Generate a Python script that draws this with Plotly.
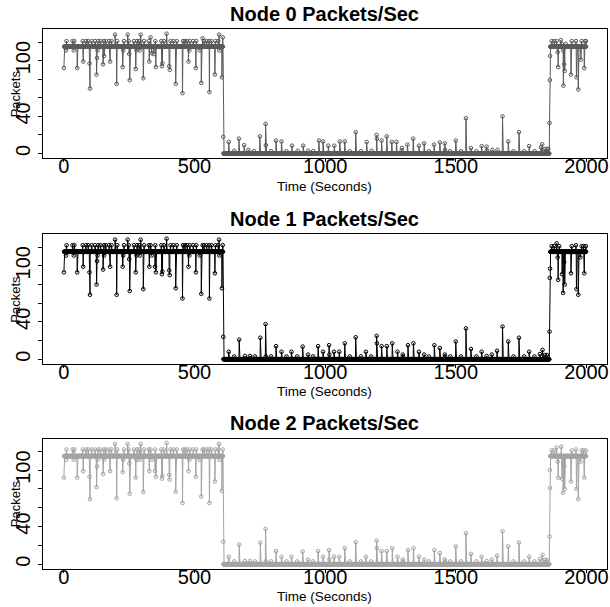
import plotly.graph_objects as go

# ---------------- data ----------------
# seconds sampled once per second; baseline levels per phase
SEG_START = [0, 611, 1862]
SEG_END = [610, 1861, 1999]
SEG_LEVEL = [115, 0, 115]

# Node 0 deviations from the baseline (time, packets)
n0_dev_t = [0, 8, 38, 51, 74, 98, 100, 125, 127, 129, 150, 154, 177, 202, 225, 227, 250, 252, 275, 278,
            290, 304, 327, 336, 344, 352, 375, 377, 403, 405, 428, 454, 477, 480, 505, 520, 526, 557, 578, 595, 605,
            10, 33, 40, 72, 84, 93, 106, 119, 131, 140, 153, 160, 173, 182, 196, 204, 230, 244, 248, 268,
            280, 288, 294, 307, 325, 332, 350, 373, 383, 393, 408, 419, 432, 456, 463, 472, 482, 495, 507,
            531, 536, 546, 556, 565, 580, 591, 594, 608,
            610, 631, 652, 670, 690, 706, 728, 750, 772, 773, 793, 812, 833, 852, 873, 895, 916, 935, 954,
            976, 992, 1012, 1035, 1056, 1075, 1094, 1117, 1137, 1159, 1178, 1197, 1198, 1216, 1236, 1255,
            1273, 1293, 1294, 1315, 1337, 1359, 1379, 1397, 1417, 1439, 1458, 1459, 1478, 1500, 1520, 1539,
            1558, 1579, 1599, 1618, 1619, 1640, 1660, 1679, 1701, 1721, 1742, 1762, 1781, 1802, 1826, 1831,
            1841, 1849, 1854, 1859, 1860, 1861,
            1867, 1877, 1886, 1902, 1906, 1921, 1944, 1960, 1982, 1995, 1998,
            1890, 1892, 1911, 1912, 1915, 1917, 1941, 1962, 1969, 1979, 1992]
n0_dev_v = [92, 111, 111, 92, 99, 97, 70, 85, 103, 111, 96, 105, 99, 75, 93, 111, 107, 79, 91, 111,
            111, 81, 99, 108, 107, 93, 94, 97, 94, 90, 75, 65, 99, 111, 92, 111, 76, 66, 85, 111, 82,
            121, 121, 121, 121, 121, 121, 121, 121, 121, 121, 121, 121, 121, 121, 128, 121, 121, 128, 121, 121,
            121, 121, 128, 121, 121, 125, 121, 121, 121, 129, 121, 121, 121, 121, 121, 121, 121, 121, 121,
            124, 121, 121, 121, 121, 121, 121, 128, 125,
            18, 12.5, 3, 16, 9, 4, 2.5, 18.5, 32, 9, 2.5, 14, 13, 2.5, 8.5, 3, 8.5, 3, 2.5,
            14, 13, 8.5, 8.5, 13, 13, 2.5, 23, 2.5, 12.5, 3, 20, 16, 14, 18.5, 12.5,
            12.5, 3, 6, 9.6, 16, 8.5, 11, 2.5, 9.6, 12, 11, 4, 2.5, 14, 2.5, 38,
            6, 2.5, 8, 7.5, 3.5, 4, 4, 40, 13, 2.5, 23, 2.5, 8, 2.5, 6.7, 10,
            5, 5, 5, 33, 79, 105,
            121, 121, 121, 122, 118, 118, 121, 121, 121, 121, 121,
            109, 93, 111, 73, 96, 89, 85, 82, 69, 101, 92]

# Node 1 deviations
n1_dev_t = [0, 8, 38, 51, 74, 98, 100, 125, 127, 129, 150, 154, 177, 202, 225, 227, 250, 252, 275, 278,
            290, 304, 327, 336, 349, 352, 375, 377, 403, 405, 428, 454, 477, 480, 505, 520, 526, 557, 578, 595, 605,
            10, 33, 40, 72, 84, 93, 106, 119, 131, 140, 153, 160, 173, 182, 196, 204, 230, 244, 248, 268,
            280, 288, 294, 307, 325, 332, 350, 373, 383, 393, 408, 419, 432, 456, 463, 472, 482, 495, 507,
            531, 536, 546, 556, 565, 580, 591, 594, 608,
            610, 631, 652, 671, 693, 712, 731, 752, 772, 773, 793, 812, 833, 852, 871, 893, 914, 935, 954,
            973, 992, 1015, 1016, 1034, 1054, 1075, 1094, 1117, 1137, 1156, 1176, 1197, 1198, 1216, 1236,
            1257, 1277, 1297, 1298, 1317, 1338, 1359, 1379, 1397, 1418, 1439, 1458, 1459, 1479, 1500, 1520,
            1539, 1558, 1579, 1599, 1618, 1638, 1658, 1679, 1701, 1721, 1742, 1762, 1781, 1801, 1822, 1832,
            1841, 1849, 1859, 1860, 1861,
            1867, 1877, 1886, 1896, 1944, 1960, 1982, 1989, 1998,
            1890, 1892, 1907, 1911, 1915, 1917, 1941, 1962, 1969, 1977, 1992]
n1_dev_v = [93, 111, 111, 93, 99, 93, 69, 80, 105, 111, 96, 111, 99, 69, 99, 111, 107, 73, 93, 111,
            111, 75, 99, 111, 99, 93, 91, 94, 95, 90, 76, 65, 99, 111, 93, 111, 70, 65, 92, 111, 76,
            122, 122, 122, 122, 122, 122, 122, 122, 122, 122, 122, 122, 122, 122, 128, 122, 122, 128, 122, 122,
            122, 122, 128, 122, 122, 122, 122, 122, 122, 129, 122, 122, 122, 122, 122, 122, 122, 122, 122,
            122, 122, 122, 122, 122, 122, 122, 128, 122,
            24, 8, 3, 21, 3.5, 3.5, 3, 23, 37.6, 3, 3, 14, 8, 3, 8, 3, 13.5, 5, 3,
            14, 8, 15, 5, 8, 8, 17, 3, 23.5, 3, 8, 3, 25, 17, 14, 14,
            17, 8, 5, 3, 15, 17, 8, 5, 3, 15, 12, 5, 3, 3, 19, 3,
            33, 11, 3, 8, 3.5, 5, 9, 35, 19, 3, 23, 3, 8, 3, 5.5, 10,
            4.5, 4.5, 29.5, 87, 97,
            121, 121, 124, 121, 121, 122, 121, 121, 121,
            109, 85, 91, 71, 104, 80, 92, 75, 69, 109, 92]

# Node 2 deviations
n2_dev_t = [0, 8, 38, 51, 74, 98, 100, 125, 127, 129, 150, 154, 177, 202, 225, 227, 250, 252, 275, 278,
            290, 304, 327, 336, 349, 352, 375, 377, 403, 405, 428, 454, 477, 480, 505, 520, 526, 557, 578, 595, 605,
            10, 33, 40, 72, 84, 93, 106, 119, 131, 140, 153, 160, 173, 182, 196, 204, 230, 244, 248, 268,
            280, 288, 294, 307, 325, 332, 350, 373, 383, 393, 408, 419, 432, 456, 463, 472, 482, 495, 507,
            531, 536, 546, 556, 565, 580, 591, 594, 608,
            610, 631, 652, 671, 693, 712, 731, 752, 772, 773, 793, 812, 833, 852, 871, 893, 914, 935, 954,
            973, 992, 1015, 1016, 1034, 1054, 1075, 1094, 1117, 1137, 1156, 1176, 1197, 1198, 1216, 1236,
            1257, 1277, 1297, 1298, 1317, 1338, 1359, 1379, 1397, 1418, 1439, 1458, 1459, 1479, 1500, 1520,
            1539, 1558, 1579, 1599, 1618, 1638, 1658, 1679, 1701, 1721, 1742, 1762, 1781, 1801, 1822, 1832,
            1841, 1849, 1859, 1860, 1861,
            1867, 1877, 1886, 1904, 1944, 1960, 1982, 1989, 1998,
            1890, 1892, 1907, 1911, 1915, 1917, 1941, 1962, 1969, 1977, 1992]
n2_dev_v = [92, 111, 111, 92, 99, 93, 69, 82, 104, 111, 96, 111, 99, 70, 98, 111, 107, 75, 92, 111,
            111, 77, 99, 111, 99, 93, 91, 94, 95, 90, 77, 65, 99, 111, 93, 111, 72, 65, 88, 111, 78,
            122, 122, 122, 122, 122, 122, 122, 122, 122, 122, 122, 122, 122, 122, 128, 122, 122, 128, 122, 122,
            122, 122, 128, 122, 122, 122, 122, 122, 122, 129, 122, 122, 122, 122, 122, 122, 122, 122, 122,
            122, 122, 122, 122, 122, 122, 122, 128, 122,
            24, 8, 3, 21, 3.5, 3.5, 3, 23, 37.6, 3, 3, 14, 8, 3, 8, 3, 13.5, 5, 3,
            14, 8, 15, 5, 8, 8, 17, 3, 23.5, 3, 8, 3, 25, 17, 14, 14,
            17, 8, 5, 3, 15, 17, 8, 5, 3, 15, 12, 5, 3, 3, 19, 3,
            33, 11, 3, 8, 3.5, 5, 9, 35, 19, 3, 23, 3, 8, 3, 5.5, 10,
            4.5, 4.5, 29.5, 100, 81,
            121, 121, 124, 125, 121, 122, 121, 121, 121,
            109, 92, 91, 76, 104, 80, 88, 80, 69, 109, 92]

NODE_NAMES = ["Node 0 Packets/Sec", "Node 1 Packets/Sec", "Node 2 Packets/Sec"]
X_TICKS = [0, 500, 1000, 1500, 2000]
Y_TICKS = [0, 20, 40, 60, 80, 100, 120]
Y_TICK_TEXT = ["0", "", "40", "", "", "100", ""]

# ---------------- build ----------------
def build_series(dev_t, dev_v):
    t_all, v_all = [], []
    for s, e, lvl in zip(SEG_START, SEG_END, SEG_LEVEL):
        for t in range(s, e + 1):
            t_all.append(t)
            v_all.append(lvl)
    dev = dict(zip(dev_t, dev_v))
    v_all = [dev.get(t, v) for t, v in zip(t_all, v_all)]
    return t_all, v_all

W, H = 610, 607
FONT = "Liberation Sans, Arial, Helvetica, sans-serif"
colors = ["#5a5a5a", "#000000", "#a3a3a3"]
box_top = [29.3, 234.3, 438.5]
box_bot = [158.3, 364.0, 569.0]
title_y = [13.7, 219.0, 423.0]
xlab_y = [186.7, 391.5, 596.0]
x_left, x_right = 43.0, 606.5

fig = go.Figure()
devs = [(n0_dev_t, n0_dev_v), (n1_dev_t, n1_dev_v), (n2_dev_t, n2_dev_v)]
annotations = []
for i, (dt, dv) in enumerate(devs):
    t, v = build_series(dt, dv)
    c = colors[i]
    fig.add_trace(go.Scatter(
        x=t, y=v, mode="lines+markers",
        line=dict(color=c, width=1),
        marker=dict(symbol="circle-open", size=3.6, color=c, line=dict(width=1, color=c)),
        xaxis="x" if i == 0 else f"x{i+1}",
        yaxis="y" if i == 0 else f"y{i+1}",
        showlegend=False, hoverinfo="skip"))
    sfx = "" if i == 0 else str(i + 1)
    fig.update_layout(**{
        f"xaxis{sfx}": dict(
            domain=[x_left / W, x_right / W], range=[-80, 2077], anchor=f"y{sfx}",
            tickvals=X_TICKS, ticks="outside", ticklen=3, tickcolor="black",
            ticklabelstandoff=-13, ticklabeloverflow="allow",
            showline=True, mirror=True, linecolor="black", linewidth=1,
            showgrid=False, zeroline=False, automargin=False,
            tickfont=dict(family=FONT, size=20, color="black")),
        f"yaxis{sfx}": dict(
            domain=[1 - box_bot[i] / H, 1 - box_top[i] / H], range=[-5.1, 133.7], anchor=f"x{sfx}",
            tickvals=Y_TICKS, ticktext=Y_TICK_TEXT, tickangle=-90,
            ticks="outside", ticklen=4, tickcolor="black",
            showline=True, mirror=True, linecolor="black", linewidth=1,
            showgrid=False, zeroline=False, automargin=False,
            tickfont=dict(family=FONT, size=20, color="black")),
    })
    cx = (x_left + x_right) / 2 / W
    annotations.append(dict(text="<b>" + NODE_NAMES[i] + "</b>", x=cx, y=1 - title_y[i] / H,
                            xref="paper", yref="paper", showarrow=False,
                            xanchor="center", yanchor="middle",
                            font=dict(family=FONT, size=20, color="black")))
    annotations.append(dict(text="Time (Seconds)", x=cx, y=1 - xlab_y[i] / H,
                            xref="paper", yref="paper", showarrow=False,
                            xanchor="center", yanchor="middle",
                            font=dict(family=FONT, size=13.5, color="black")))
    annotations.append(dict(text="Packets", x=15.5 / W, y=1 - (box_top[i] + box_bot[i]) / 2 / H,
                            xref="paper", yref="paper", showarrow=False, textangle=-90,
                            xanchor="center", yanchor="middle",
                            font=dict(family=FONT, size=13, color="black")))

fig.update_layout(width=W, height=H, margin=dict(l=0, r=0, t=0, b=0, autoexpand=False),
                  paper_bgcolor="white", plot_bgcolor="white",
                  annotations=annotations)
fig.write_html("out.html", config={"displayModeBar": False},
               post_script="document.body.style.margin='0px';document.body.style.overflow='hidden';")
